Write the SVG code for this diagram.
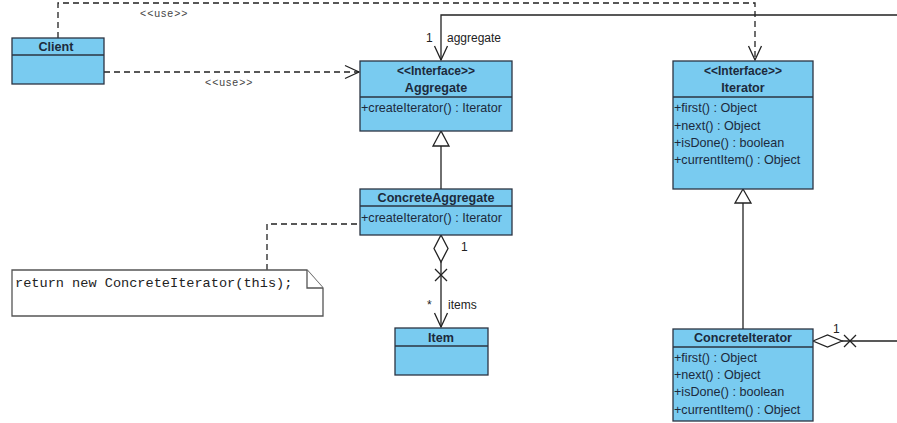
<svg xmlns="http://www.w3.org/2000/svg" width="897" height="423" viewBox="0 0 897 423">
  <style>
    .box { fill: #79cbf0; stroke: #2b3442; stroke-width: 1.3; }
    .div { stroke: #2b3442; stroke-width: 1.3; }
    .name { font-family: "Liberation Sans", Arial, sans-serif; font-size: 12.6px; font-weight: bold; fill: #1c2a3c; text-anchor: middle; }
    .stereo { font-family: "Liberation Sans", Arial, sans-serif; font-size: 12px; font-weight: bold; fill: #1c2a3c; text-anchor: middle; }
    .member { font-family: "Liberation Sans", Arial, sans-serif; font-size: 12.6px; fill: #1c2a3c; }
    .lbl { font-family: "Liberation Sans", Arial, sans-serif; font-size: 12px; fill: #222; }
    .use { font-family: "Liberation Sans", Arial, sans-serif; font-size: 10.5px; fill: #444; letter-spacing: 1px; }
    .solid { fill: none; stroke: #222; stroke-width: 1.3; }
    .dash { fill: none; stroke: #222; stroke-width: 1.3; stroke-dasharray: 6 4; }
    .head { fill: none; stroke: #222; stroke-width: 1.3; }
    .hollow { fill: #fff; stroke: #222; stroke-width: 1.3; }
    .note { fill: #fff; stroke: #555; stroke-width: 1.3; }
    .code { font-family: "Liberation Mono", "Courier New", monospace; font-size: 13.6px; fill: #222; }
  </style>
  <defs>
    <marker id="open-arrow" markerUnits="userSpaceOnUse" markerWidth="18" markerHeight="16" viewBox="-16 -8 18 16" refX="0" refY="0" orient="auto">
      <path d="M -14 -6.5 L 0 0 L -14 6.5" fill="none" stroke="#222" stroke-width="1.3"/>
    </marker>
  </defs>

  <!-- connectors -->
  <g id="connectors">
    <!-- Client uses Iterator -->
    <path class="dash" d="M 58 38 L 58 3 L 755 3 L 755 60" marker-end="url(#open-arrow)"/>
    <text class="use" x="140" y="17">&lt;&lt;use&gt;&gt;</text>
    <!-- Client uses Aggregate -->
    <path class="dash" d="M 104 72 L 359 72" marker-end="url(#open-arrow)"/>
    <text class="use" x="205" y="86">&lt;&lt;use&gt;&gt;</text>
    <!-- ConcreteIterator holds aggregate -->
    <path class="solid" d="M 897 15 L 441 15 L 441 60" marker-end="url(#open-arrow)"/>
    <text class="lbl" x="426" y="42">1</text>
    <text class="lbl" x="447" y="42">aggregate</text>
    <!-- ConcreteAggregate realizes Aggregate -->
    <line class="solid" x1="441" y1="189" x2="441" y2="146"/>
    <path class="hollow" d="M 441 131 L 433 146 L 449 146 Z"/>
    <!-- ConcreteAggregate aggregates Item -->
    <path class="hollow" d="M 441 235 L 448 248.5 L 441 262 L 434 248.5 Z"/>
    <line class="solid" x1="441" y1="262" x2="441" y2="327" marker-end="url(#open-arrow)"/>
    <path class="head" d="M 435 269 L 447 281 M 447 269 L 435 281"/>
    <text class="lbl" x="461" y="251">1</text>
    <text class="lbl" x="427" y="309">*</text>
    <text class="lbl" x="448" y="309">items</text>
    <!-- note attachment -->
    <path class="dash" d="M 267 270 L 267 224 L 360 224"/>
    <!-- ConcreteIterator realizes Iterator -->
    <line class="solid" x1="743" y1="329" x2="743" y2="203"/>
    <path class="hollow" d="M 743 189 L 735 203 L 751 203 Z"/>
    <!-- ConcreteIterator aggregation end -->
    <path class="hollow" d="M 813 341 L 827.5 335 L 842 341 L 827.5 347 Z"/>
    <line class="solid" x1="842" y1="341" x2="897" y2="341"/>
    <path class="head" d="M 844 335 L 856 347 M 856 335 L 844 347"/>
    <text class="lbl" x="833" y="333">1</text>
  </g>

  <!-- Client -->
  <g id="client">
    <rect class="box" x="12" y="38" width="92" height="46"/>
    <line class="div" x1="12" y1="55" x2="104" y2="55"/>
    <text class="name" x="56" y="51">Client</text>
  </g>

  <!-- Aggregate interface -->
  <g id="aggregate">
    <rect class="box" x="360" y="61" width="152" height="70"/>
    <line class="div" x1="360" y1="97" x2="512" y2="97"/>
    <text class="stereo" x="436" y="75">&lt;&lt;Interface&gt;&gt;</text>
    <text class="name" x="436" y="92">Aggregate</text>
    <text class="member" x="361" y="112">+createIterator() : Iterator</text>
  </g>

  <!-- Iterator interface -->
  <g id="iterator">
    <rect class="box" x="673" y="61" width="140" height="128"/>
    <line class="div" x1="673" y1="97" x2="813" y2="97"/>
    <text class="stereo" x="743" y="75">&lt;&lt;Interface&gt;&gt;</text>
    <text class="name" x="743" y="92">Iterator</text>
    <text class="member" x="674" y="112">+first() : Object</text>
    <text class="member" x="674" y="130">+next() : Object</text>
    <text class="member" x="674" y="147">+isDone() : boolean</text>
    <text class="member" x="674" y="164">+currentItem() : Object</text>
  </g>

  <!-- ConcreteAggregate -->
  <g id="concrete-aggregate">
    <rect class="box" x="360" y="189" width="152" height="46"/>
    <line class="div" x1="360" y1="206" x2="512" y2="206"/>
    <text class="name" x="436" y="202">ConcreteAggregate</text>
    <text class="member" x="361" y="222">+createIterator() : Iterator</text>
  </g>

  <!-- Item -->
  <g id="item">
    <rect class="box" x="395" y="328" width="93" height="47"/>
    <line class="div" x1="395" y1="346" x2="488" y2="346"/>
    <text class="name" x="441" y="342">Item</text>
  </g>

  <!-- ConcreteIterator -->
  <g id="concrete-iterator">
    <rect class="box" x="673" y="329" width="140" height="92"/>
    <line class="div" x1="673" y1="347" x2="813" y2="347"/>
    <text class="name" x="743" y="342">ConcreteIterator</text>
    <text class="member" x="674" y="362">+first() : Object</text>
    <text class="member" x="674" y="379">+next() : Object</text>
    <text class="member" x="674" y="396">+isDone() : boolean</text>
    <text class="member" x="674" y="414">+currentItem() : Object</text>
  </g>

  <!-- note on createIterator -->
  <g id="note">
    <path class="note" d="M 12 270 L 307 270 L 323 288 L 323 316 L 12 316 Z"/>
    <path class="note" d="M 307 270 L 307 288 L 323 288"/>
    <text class="code" x="15" y="287">return new ConcreteIterator(this);</text>
  </g>
</svg>
